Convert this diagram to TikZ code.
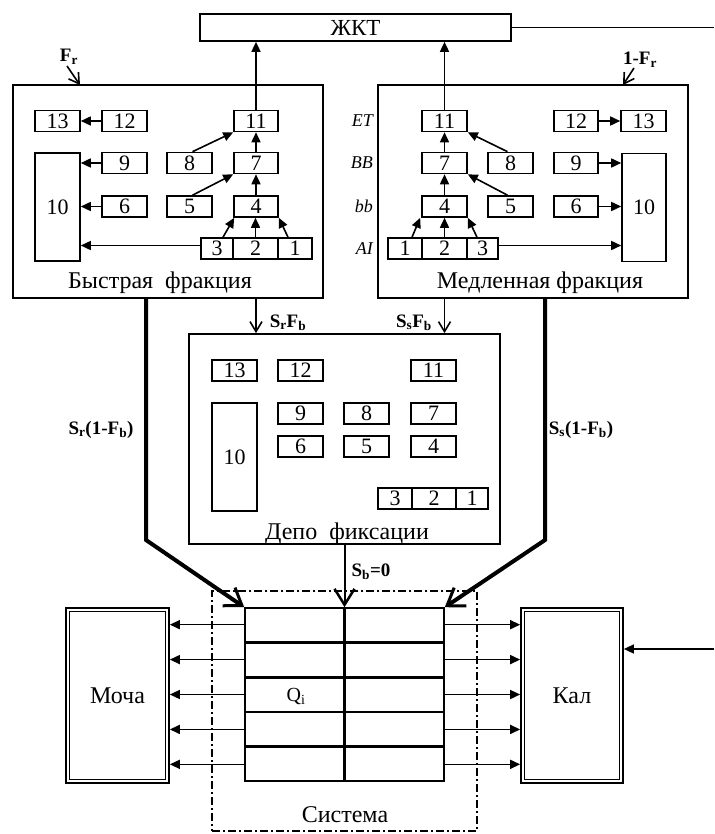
\documentclass[tikz,border=0pt]{standalone}
\usepackage{fontspec}
\setmainfont{Liberation Serif}
\usetikzlibrary{arrows.meta,calc}
\newcommand{\fsz}[1]{\fontsize{#1}{#1}\selectfont}
\begin{document}
\begin{tikzpicture}[x=1pt,y=-1pt,
  box/.style={draw,line width=1.6pt,inner sep=0pt,minimum width=45,minimum height=21,font=\fsz{22}},
  frame/.style={draw,line width=1.7pt,inner sep=0pt},
  lbl/.style={inner sep=0pt,anchor=base,font=\fsz{24}},
  blbl/.style={inner sep=0pt,anchor=base,font=\fsz{19}\bfseries},
  ilbl/.style={inner sep=0pt,anchor=east,font=\fsz{18}\itshape},
  arr/.style={line width=1.6pt,-{Triangle[length=10pt,width=9pt]}},
  barb/.style={line width=1.6pt,-{Straight Barb[length=10pt,width=12pt]}},
  bigbarb/.style={line width=4pt,-{Straight Barb[length=16pt,width=22pt,line width=3pt]}},
  thickrow/.style={line width=3pt},
  thinrow/.style={line width=1.6pt}
]
\useasboundingbox (0,0) rectangle (714,834);
\fill[white] (0,0) rectangle (714,834);

% top box
\node[frame,minimum width=311,minimum height=27,font=\fsz{23}] (zkt) at (355.5,27.5) {ЖКТ};
\coordinate (zout) at (714,27.5);
\draw[line width=1.6pt] (zkt.east) -- (zout);

% fast fraction
\node[frame,minimum width=310,minimum height=213] (fast) at (168,191.5) {};
\node[lbl] (fastlbl) at (160,288) {Быстрая~~фракция};
\node[box] (L13) at (57.5,121) {13};
\node[box] (L12) at (124.5,121) {12};
\node[box,minimum width=44] (L11) at (256,121) {11};
\node[box,minimum height=108] (L10) at (57.5,207) {10};
\node[box] (L9) at (124.5,163) {9};
\node[box] (L8) at (189.5,163) {8};
\node[box,minimum width=44] (L7) at (256,163) {7};
\node[box] (L6) at (124.5,206.5) {6};
\node[box] (L5) at (189.5,206.5) {5};
\node[box,minimum width=44] (L4) at (256,206.5) {4};
\node[box,minimum width=32] (L3) at (217,248.5) {3};
\node[box,minimum width=45] (L2) at (255.5,248.5) {2};
\node[box,minimum width=34] (L1) at (295,248.5) {1};

\coordinate (l3w) at ([yshift=3pt]L3.west);
\draw[arr] (L12.west) -- (L13.east);
\draw[arr] (L9.west) -- (L10.east |- L9.west);
\draw[arr] (L6.west) -- (L10.east |- L6.west);
\draw[arr] (l3w) -- (L10.east |- l3w);
\draw[arr] ([xshift=3pt]L8.north) -- (L11.south west);
\draw[arr] ([xshift=3pt]L5.north) -- (L7.south west);
\draw[arr] (L7.north) -- (L11.south);
\draw[arr] (L4.north) -- (L7.south);
\draw[arr] ([xshift=6pt]L3.north) -- ([xshift=1pt]L4.south west);
\draw[arr] (L2.north) -- (L2.north |- L4.south);
\draw[arr] ([xshift=-7pt]L1.north) -- (L4.south east);
\draw[arr] (L11.north) -- (L11.north |- zkt.south);

% slow fraction
\node[frame,minimum width=310,minimum height=213] (slow) at (533,191.5) {};
\node[lbl] (slowlbl) at (540,288) {Медленная фракция};
\node[box] (R11) at (444.5,121) {11};
\node[box,minimum width=44] (R12) at (576,121) {12};
\node[box] (R13) at (643.5,121) {13};
\node[box] (R7) at (444.5,163) {7};
\node[box] (R8) at (510.5,163) {8};
\node[box,minimum width=44] (R9) at (576,163) {9};
\node[box,minimum width=44,minimum height=108] (R10) at (644,207.5) {10};
\node[box] (R4) at (444.5,206.5) {4};
\node[box] (R5) at (510.5,206.5) {5};
\node[box,minimum width=44] (R6) at (576,206.5) {6};
\node[box,minimum width=34] (R1) at (405,248.5) {1};
\node[box,minimum width=45] (R2) at (444.5,248.5) {2};
\node[box,minimum width=31] (R3) at (482.5,248.5) {3};

\node[ilbl] (lET) at (373,121) {ET};
\node[ilbl] (lBB) at (373,163) {BB};
\node[ilbl] (lbb) at (373,206.5) {bb};
\node[ilbl] (lAI) at (373,248.5) {AI};

\coordinate (r3e) at ([yshift=3pt]R3.east);
\draw[arr] (R12.east) -- (R13.west);
\draw[arr] (R9.east) -- (R10.west |- R9.east);
\draw[arr] (R6.east) -- (R10.west |- R6.east);
\draw[arr] (r3e) -- (R10.west |- r3e);
\draw[arr] ([xshift=-3pt]R8.north) -- (R11.south east);
\draw[arr] ([xshift=-3pt]R5.north) -- (R7.south east);
\draw[arr] (R7.north) -- (R11.south);
\draw[arr] (R4.north) -- (R7.south);
\draw[arr] ([xshift=7pt]R1.north) -- ([xshift=-1pt]R4.south west);
\draw[arr] (R2.north) -- (R4.south);
\draw[arr] ([xshift=-5.5pt]R3.north) -- (R4.south east);
\draw[arr] (R11.north) -- (R11.north |- zkt.south);

% F_r labels
\node[blbl] (fr) at (69,62) {F\textsubscript{r}};
\coordinate (frs) at (67,66);
\coordinate (frt) at (80,85);
\draw[barb] (frs) -- (frt);
\node[blbl] (fr1) at (640,65) {1-F\textsubscript{r}};
\coordinate (fr1s) at (634,68);
\coordinate (fr1t) at (623,85);
\draw[barb] (fr1s) -- (fr1t);

% depot
\node[frame,minimum width=311,minimum height=210] (depo) at (344.5,439) {};
\node[lbl] (depolbl) at (347,539) {Депо~~фиксации};
\node[box] (D13) at (234.5,370.5) {13};
\node[box] (D12) at (300.5,370.5) {12};
\node[box] (D11) at (433.5,370.5) {11};
\node[box,minimum height=108] (D10) at (234.5,457) {10};
\node[box] (D9) at (300.5,413.5) {9};
\node[box] (D8) at (366.5,413.5) {8};
\node[box] (D7) at (433.5,413.5) {7};
\node[box] (D6) at (300.5,446.5) {6};
\node[box] (D5) at (366.5,446.5) {5};
\node[box] (D4) at (433.5,446.5) {4};
\node[box,minimum width=34] (D3) at (395,498.5) {3};
\node[box,minimum width=44] (D2) at (434,498.5) {2};
\node[box,minimum width=32] (D1) at (472,498.5) {1};

\draw[barb] (L7 |- fast.south) -- (L7 |- depo.north);
\draw[barb] (R7 |- slow.south) -- (R7 |- depo.north);
\node[blbl] (srfb) at (288,327) {S\textsubscript{r}F\textsubscript{b}};
\node[blbl] (ssfb) at (414,327) {S\textsubscript{s}F\textsubscript{b}};

% system
\node[draw,line width=1.4pt,dash pattern=on 8pt off 3pt on 2pt off 3pt,minimum width=265,minimum height=240,inner sep=0pt] (sys) at (344.5,711) {};
\node[lbl] (syslbl) at (345,822) {Система};

\node[draw,line width=1.6pt,minimum width=199,minimum height=173,inner sep=0pt] (grid) at (344.5,694.5) {};
\foreach \f/\s in {0.2/thickrow,0.4/thickrow,0.6/thinrow,0.8/thickrow}
  \draw[\s] ($(grid.north west)!\f!(grid.south west)$) -- ($(grid.north east)!\f!(grid.south east)$);
\draw[line width=2.5pt] (grid.north) -- (grid.south);
\node[inner sep=0pt,anchor=base,font=\fsz{20}] (qi) at (296,701) {Q\textsubscript{i}};

% thick flows
\coordinate (lb) at (146,540);
\coordinate (rb) at (545,540);
\draw[bigbarb] (fast.south -| lb) -- (lb) -- (grid.north west);
\draw[bigbarb] (slow.south -| rb) -- (rb) -- (grid.north east);
\node[blbl] (sr1) at (101,434) {S\textsubscript{r}(1-F\textsubscript{b})};
\node[blbl] (ss1) at (581,434) {S\textsubscript{s}(1-F\textsubscript{b})};
\draw[line width=2pt,-{Straight Barb[length=16pt,width=20pt,line width=2.5pt]}] (depo.south) -- (grid.north);
\node[blbl] (sb) at (371,576) {S\textsubscript{b}=0};

% urine & faeces
\node[frame,minimum width=103,minimum height=175,font=\fsz{24}] (mocha) at (117.5,695.5) {Моча};
\draw[line width=1.6pt] ([shift={(4.5,4.5)}]mocha.north west) rectangle ([shift={(-4.5,-4.5)}]mocha.south east);
\node[frame,minimum width=102,minimum height=175,font=\fsz{24}] (kal) at (572,695.5) {Кал};
\draw[line width=1.6pt] ([shift={(4.5,4.5)}]kal.north west) rectangle ([shift={(-4.5,-4.5)}]kal.south east);

\foreach \f in {0.1,0.3,0.5,0.7,0.9} {
  \coordinate (gl) at ($(grid.north west)!\f!(grid.south west)$);
  \coordinate (gr) at ($(grid.north east)!\f!(grid.south east)$);
  \draw[arr] (gl) -- (mocha.east |- gl);
  \draw[arr] (gr) -- (kal.west |- gr);
}
\coordinate (kin) at (714,649);
\draw[arr] (kin) -- (kal.east |- kin);
\end{tikzpicture}
\end{document}
